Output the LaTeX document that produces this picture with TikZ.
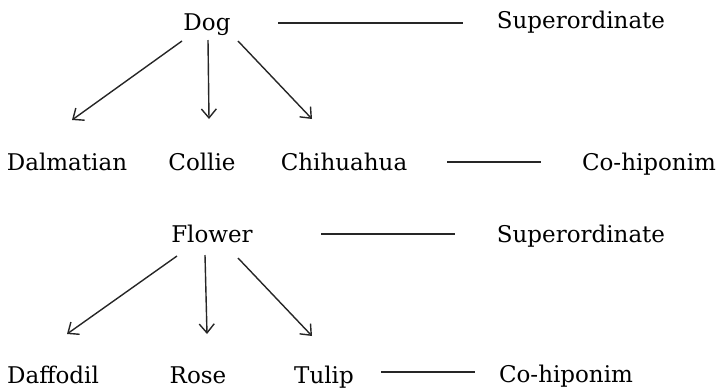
\documentclass[tikz,border=0pt]{standalone}
\usepackage{fontspec}
\setmainfont{DejaVu Serif}
\usetikzlibrary{arrows.meta}
\begin{document}
\begin{tikzpicture}[x=1pt,y=-1pt,
  lbl/.style={inner sep=0pt,font=\fontsize{23}{25}\selectfont,text=black,anchor=base},
  arr/.style={-{Straight Barb[length=9pt,width=15pt,line width=1.4pt]},line width=1.4pt,black!85},
  rel/.style={line width=1.6pt,black!85}]
\useasboundingbox (0,0) rectangle (719,389);
% top tree
\node[lbl] (dog) at (207,30) {Dog};
\node[lbl] (sup1) at (581,28) {Superordinate};
\node[lbl] (dal) at (67,170) {Dalmatian};
\node[lbl] (col) at (202,170) {Collie};
\node[lbl] (chi) at (344,170) {Chihuahua};
\node[lbl] (coh1) at (649,170) {Co-hiponim};
\coordinate (d1s) at (182,41); \coordinate (d1e) at (72,120);
\coordinate (d2s) at (208,40); \coordinate (d2e) at (209,119);
\coordinate (d3s) at (238,41); \coordinate (d3e) at (312,119);
\draw[arr] (d1s) -- (d1e);
\draw[arr] (d2s) -- (d2e);
\draw[arr] (d3s) -- (d3e);
\coordinate (l1s) at (278,23); \coordinate (l1e) at (463,23);
\draw[rel] (l1s) -- (l1e);
\coordinate (l2s) at (447,162); \coordinate (l2e) at (541,162);
\draw[rel] (l2s) -- (l2e);
% bottom tree
\node[lbl] (flo) at (212,242) {Flower};
\node[lbl] (sup2) at (581,242) {Superordinate};
\node[lbl] (daf) at (53,383) {Daffodil};
\node[lbl] (ros) at (198,383) {Rose};
\node[lbl] (tul) at (324,383) {Tulip};
\node[lbl] (coh2) at (566,382) {Co-hiponim};
\coordinate (f1s) at (177,256); \coordinate (f1e) at (67,334);
\coordinate (f2s) at (205,255); \coordinate (f2e) at (207,334);
\coordinate (f3s) at (238,258); \coordinate (f3e) at (312,336);
\draw[arr] (f1s) -- (f1e);
\draw[arr] (f2s) -- (f2e);
\draw[arr] (f3s) -- (f3e);
\coordinate (l3s) at (321,234); \coordinate (l3e) at (455,234);
\draw[rel] (l3s) -- (l3e);
\coordinate (l4s) at (381,372); \coordinate (l4e) at (475,372);
\draw[rel] (l4s) -- (l4e);
\end{tikzpicture}
\end{document}
